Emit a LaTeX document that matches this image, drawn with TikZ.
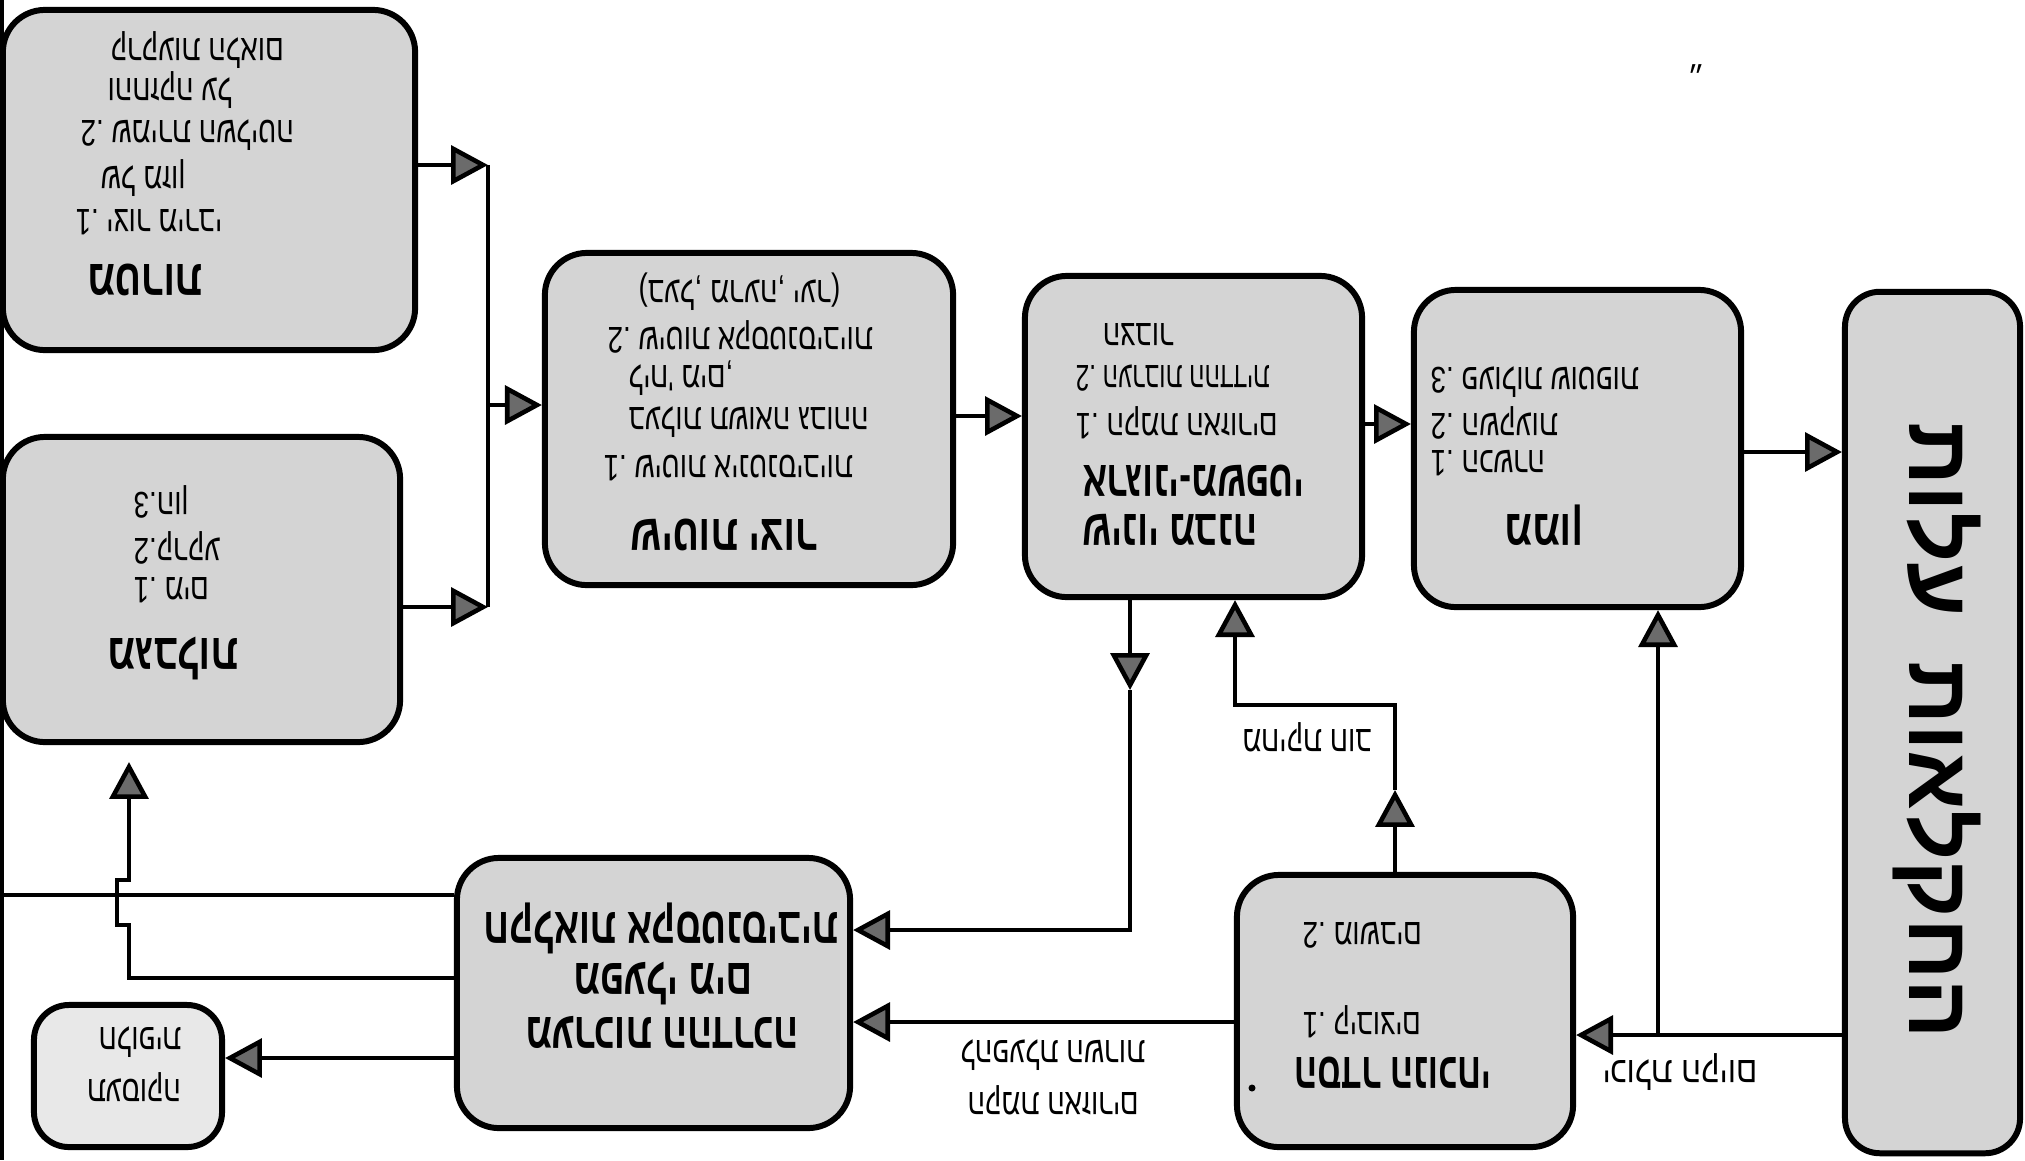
\documentclass[tikz,border=0pt]{standalone}
\usepackage{fontspec}
\setmainfont{Liberation Sans}
\newfontfamily\heb[Script=Hebrew]{Liberation Sans}
\TeXXeTstate=1
\usetikzlibrary{arrows.meta}
\newcommand{\HR}[1]{\beginR #1\endR}
\newcommand{\SQ}[1]{\scalebox{0.75}[1]{#1}}
\begin{document}
\begin{tikzpicture}[x=0.01cm,y=-0.01cm,
  box/.style={draw=black, line width=1.7pt, rounded corners=0.42cm, fill=black!17},
  tl/.style={rotate=180, inner sep=0pt, anchor=east, font=\heb\fontsize{10.5}{12}\selectfont},
  tt/.style={rotate=180, inner sep=0pt, anchor=center, font=\heb\bfseries\fontsize{14.5}{16}\selectfont},
  tc/.style={rotate=180, inner sep=0pt, anchor=center, font=\heb\fontsize{10.5}{12}\selectfont},
  ln/.style={line width=1.3pt},
  arr/.style={line width=1.3pt, -{Triangle[length=10.5pt,width=11pt,fill=black!58]}}]
\useasboundingbox (0,0) rectangle (2025,1160);
\draw[line width=1.4pt] (2,0) -- (2,1160);
% boxes
\node[box, minimum width=4.12cm, minimum height=3.40cm] (b1) at (209,180) {};
\node[box, minimum width=3.97cm, minimum height=3.05cm] (b2) at (201.5,589.5) {};
\node[box, minimum width=4.08cm, minimum height=3.32cm] (b3) at (749,419) {};
\node[box, minimum width=3.37cm, minimum height=3.21cm] (b4) at (1193.5,436.5) {};
\node[box, minimum width=3.27cm, minimum height=3.17cm] (b5) at (1577.5,448.5) {};
\node[box, minimum width=1.75cm, minimum height=8.61cm, rounded corners=0.35cm] (b6) at (1932.5,722.5) {};
\node[box, minimum width=3.93cm, minimum height=2.70cm] (b7) at (653.5,993) {};
\node[box, minimum width=3.36cm, minimum height=2.72cm] (b8) at (1405,1011) {};
\node[box, minimum width=1.88cm, minimum height=1.42cm, rounded corners=0.35cm, fill=black!9] (b9) at (128,1076) {};
% box 1 text
\node[tt] (t1) at (145,280) {\SQ{\HR{מטרות}}};
\node[tl] (t1a) at (75,222) {\SQ{\HR{יצור מירבי} 1.}};
\node[tl] (t1b) at (100,178) {\SQ{\HR{של מזון}}};
\node[tl] (t1c) at (80,135) {\SQ{\HR{שמירת השליטה} 2.}};
\node[tl] (t1d) at (107,90) {\SQ{\HR{והחזקה על}}};
\node[tl] (t1e) at (110,50) {\SQ{\HR{קרקעות הלאום}}};
% box 2 text
\node[tt] (t2) at (173,658) {\SQ{\HR{מגבלות}}};
\node[tl] (t2a) at (133,590) {\SQ{\HR{מים} 1.}};
\node[tl] (t2b) at (133,548) {\SQ{\HR{קרקע}2.}};
\node[tl] (t2c) at (133,502) {\SQ{\HR{הון}3.}};
% box 3 text
\node[tt] (t3) at (724,535) {\SQ{\HR{שיטות יצור}}};
\node[tl] (t3a) at (603,468) {\SQ{\HR{שיטות אינטנסיביות} 1.}};
\node[tl] (t3b) at (628,422) {\SQ{\HR{בעלות תשואה גבוהה}}};
\node[tl] (t3c) at (628,378) {\SQ{,\HR{מים} '\HR{ליח}}};
\node[tl] (t3d) at (607,337) {\SQ{\HR{שיטות אקסטנסיביות} 2.}};
\node[tl] (t3e) at (638,292) {\SQ{)\HR{יער} ,\HR{מרעה} ,\HR{בעל}(}};
% box 4 text
\node[tt, anchor=east] (t4) at (1082,530) {\scalebox{0.7}[1]{\HR{שינוי מבנה}}};
\node[tt, anchor=east] (t4b) at (1082,481) {\scalebox{0.7}[1]{\HR{משפטי}-\HR{ארגוני}}};
\node[tl] (t4c) at (1075,423) {\SQ{\HR{הקמת האזורים} 1.}};
\node[tl] (t4d) at (1075,378) {\scalebox{0.66}[1]{\HR{הערבות ההדדית} 2.}};
\node[tl] (t4e) at (1102,335) {\SQ{\HR{הצבור}}};
% box 5 text
\node[tt] (t5) at (1544,525) {\SQ{\HR{ממון}}};
\node[tl] (t5a) at (1430,463) {\SQ{\HR{הכשרה} 1.}};
\node[tl] (t5b) at (1430,423) {\SQ{\HR{השקעות} 2.}};
\node[tl] (t5c) at (1430,382) {\SQ{\HR{פעולות שוטפות} 3.}};
% box 6 text
\node[rotate=-90, inner sep=0pt, font=\heb\bfseries\fontsize{25}{27}\selectfont] (t6) at (1937,731) {\HR{החקלאות\hspace{0.5em}עלות}};
% box 7 text
\node[tt] (t7a) at (661,928) {\scalebox{0.72}[1]{\HR{חקלאות אקסטנסיבית}}};
\node[tt] (t7b) at (663,983) {\scalebox{0.72}[1]{\HR{מפעלי מים}}};
\node[tt] (t7c) at (662,1032) {\scalebox{0.72}[1]{\HR{מערכות ההדרכה}}};
% box 8 text
\node[tl] (t8a) at (1302,935) {\SQ{\HR{מושבים} 2.}};
\node[tl] (t8b) at (1302,1022) {\SQ{\HR{קיבוצים} 1.}};
\node[tt, anchor=east] (t8) at (1294,1073) {\scalebox{0.67}[1]{\HR{הסדר הנוכחי}}};
\fill (1252,1088) circle (3.5);
% box 9 text
\node[tc] (t9a) at (140,1042) {\SQ{\HR{חלופית}}};
\node[tc] (t9b) at (134,1087) {\SQ{\HR{תעסוקה}}};
% labels
\node[tc] (l1) at (1680,1072) {\scalebox{0.85}[1]{\HR{יכולת הקיום}}};
\node[tc] (l2) at (1307,737) {\SQ{\HR{מחיקת חוב}}};
\node[tc] (l3) at (1053,1055) {\SQ{\HR{להפעלת השרות}}};
\node[tc] (l4) at (1053,1100) {\SQ{\HR{הקמת האזורים}}};
\node[inner sep=0pt, font=\fontsize{8}{9}\selectfont] (mk) at (1696,76) {״};
% connectors
\coordinate (bus1) at (488,165);
\coordinate (bus2) at (488,607);
\coordinate (busm) at (488,405);
\draw[arr] (b1.east |- bus1) -- (bus1);
\draw[arr] (b2.east |- bus2) -- (bus2);
\draw[ln] (bus1) -- (bus2);
\draw[arr] (busm) -- (b3.west |- busm);
\coordinate (y34) at (0,416);
\draw[arr] (b3.east |- y34) -- (b4.west |- y34);
\coordinate (y45) at (0,424);
\draw[arr] (b4.east |- y45) -- (b5.west |- y45);
\coordinate (y56) at (0,452);
\draw[arr] (b5.east |- y56) -- (b6.west |- y56);
\coordinate (y68) at (0,1035);
\draw[arr] (b6.west |- y68) -- (b8.east |- y68);
\coordinate (br) at (1658,1035);
\draw[arr] (br) -- (br |- b5.south);
\coordinate (m1) at (1395,790);
\coordinate (k1) at (1395,705);
\coordinate (k2) at (1235,705);
\draw[arr] (m1 |- b8.north) -- (m1);
\draw[arr] (m1) -- (k1) -- (k2) -- (k2 |- b4.south);
\coordinate (d1) at (1130,690);
\coordinate (d2) at (1130,930);
\draw[arr] (d1 |- b4.south) -- (d1);
\draw[arr] (d1) -- (d2) -- (b7.east |- d2);
\coordinate (y87) at (0,1022);
\draw[arr] (b8.west |- y87) -- (b7.east |- y87);
\coordinate (y79) at (0,1058);
\draw[arr] (b7.west |- y79) -- (b9.east |- y79);
\coordinate (e1) at (129,978);
\coordinate (e2) at (129,925);
\coordinate (e3) at (117,925);
\coordinate (e4) at (117,880);
\coordinate (e5) at (129,880);
\coordinate (e6) at (129,762);
\draw[arr] (b7.west |- e1) -- (e1) -- (e2) -- (e3) -- (e4) -- (e5) -- (e6);
\coordinate (lin) at (2,895);
\draw[ln] (lin) -- (b7.west |- lin);
\end{tikzpicture}
\end{document}
